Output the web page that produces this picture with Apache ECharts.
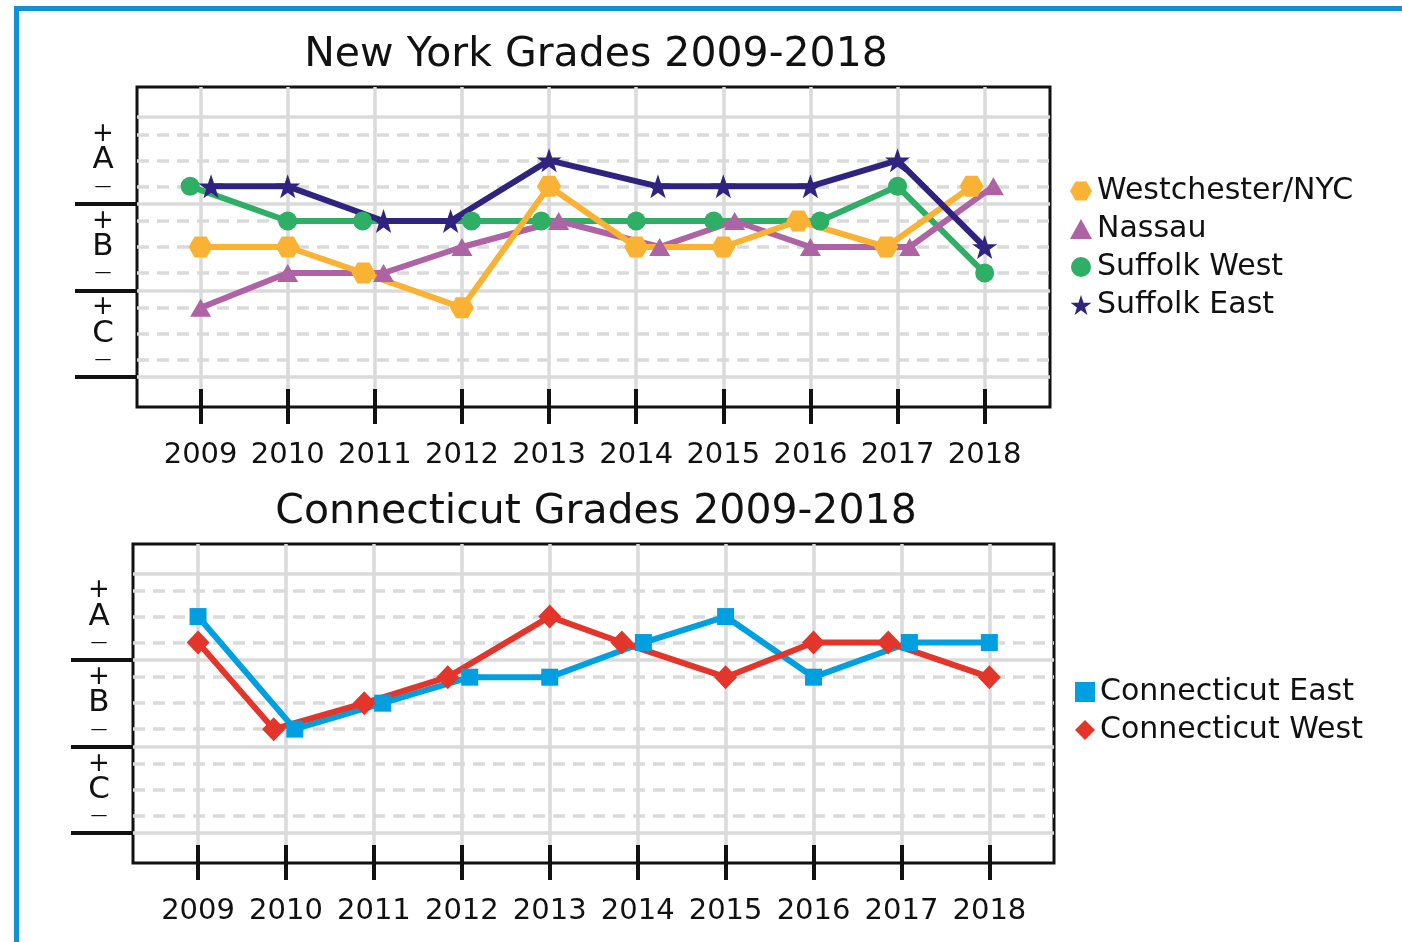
<!DOCTYPE html>
<html>
<head>
<meta charset="utf-8">
<script src="https://cdn.jsdelivr.net/npm/echarts@6/dist/echarts.min.js"></script>
<style>
html,body{margin:0;padding:0;background:#fff;}
#c{width:1402px;height:942px;}
</style>
</head>
<body>
<div id="c"></div>
<script>
// ---------------- data ----------------
const years = [2009, 2010, 2011, 2012, 2013, 2014, 2015, 2016, 2017, 2018];

// grade -> position on the grade scale (bands C / B / A, each 10 units wide)
const gradePos = {'C-': 2, 'C': 5, 'C+': 8, 'B-': 12, 'B': 15, 'B+': 18, 'A-': 22, 'A': 25, 'A+': 28};
const gradeLevels = [2, 5, 8, 12, 15, 18, 22, 25, 28];
const gradeLabels = ['–', 'C', '+', '–', 'B', '+', '–', 'A', '+'];
const bandEdges = [0, 10, 20, 30];
const bandTicks = [0, 10, 20];

// New York
const westchester      = ['B', 'B', 'B-', 'C+', 'A-', 'B', 'B', 'B+', 'B', 'A-'];
const westchesterShift = [0, 0, -0.13, 0, 0, 0, 0, -0.14, -0.13, -0.15];
const nassau           = ['C+', 'B-', 'B-', 'B', 'B+', 'B', 'B+', 'B', 'B', 'A-'];
const nassauShift      = [0, 0, 0.1, 0, 0.11, 0.27, 0.13, 0, 0.14, 0.1];
const suffolkWest      = ['A-', 'B+', 'B+', 'B+', 'B+', 'B+', 'B+', 'B+', 'A-', 'B-'];
const suffolkWestShift = [-0.12, 0, -0.14, 0.11, -0.09, 0, -0.11, 0.11, 0, 0];
const suffolkEast      = ['A-', 'A-', 'B+', 'B+', 'A', 'A-', 'A-', 'A-', 'A', 'B'];
const suffolkEastShift = [0.12, 0, 0.1, -0.13, 0, 0.25, 0, 0, 0, 0];

// Connecticut
const ctEast      = ['A', 'B-', 'B', 'B+', 'B+', 'A-', 'A', 'B+', 'A-', 'A-'];
const ctEastShift = [0, 0.1, 0.1, 0.09, 0, 0.065, 0, 0, 0.09, 0];
const ctWest      = ['A-', 'B-', 'B', 'B+', 'A', 'A-', 'B+', 'A-', 'A-', 'B+'];
const ctWestShift = [0, -0.14, -0.11, -0.16, 0, -0.18, 0, 0, -0.15, 0];

// ---------------- styling ----------------
const FONT = 'DejaVu Sans';
const INK = '#111111';
const GRID_C = '#dadada';
const C_ORANGE = '#F9B233';
const C_PURPLE = '#AE63A4';
const C_GREEN = '#2FAE66';
const C_NAVY = '#30237F';
const C_BLUE = '#009FE0';
const C_RED = '#E4352B';
const HEX = 'path://M0,50 L25,6.7 L75,6.7 L100,50 L75,93.3 L25,93.3 Z';
const STAR = 'path://M50,0 L61.8,35.1 L98.1,35.1 L68.8,56.9 L79.4,91.9 L50,70.5 L20.6,91.9 L31.2,56.9 L1.9,35.1 L38.2,35.1 Z';

const letterLevels = gradeLevels.filter((v, i) => gradeLabels[i] !== '+' && gradeLabels[i] !== '–');
const signLevels = gradeLevels.filter((v, i) => gradeLabels[i] === '+' || gradeLabels[i] === '–');
const labelFor = v => gradeLabels[gradeLevels.indexOf(Math.round(v))];

function pts(grades, shift) {
  return years.map((y, i) => [y + shift[i], gradePos[grades[i]]]);
}

function xAxes(gridIndex, min, max) {
  return [
    {
      type: 'value', gridIndex, min, max, position: 'bottom',
      axisLine: {show: false, onZero: false},
      axisTick: {show: true, inside: false, length: 17, customValues: years, lineStyle: {color: INK, width: 4}},
      axisLabel: {show: true, customValues: years, margin: 34, fontSize: 29, fontFamily: FONT, color: INK,
        showMinLabel: true, showMaxLabel: true, formatter: v => String(Math.round(v))},
      splitLine: {show: true, lineStyle: {color: GRID_C, width: 3.5}}
    },
    {
      type: 'value', gridIndex, min, max, position: 'bottom',
      axisLine: {show: false, onZero: false},
      axisTick: {show: true, inside: true, length: 18, customValues: years, lineStyle: {color: INK, width: 4}},
      axisLabel: {show: false},
      splitLine: {show: false}
    }
  ];
}

function yAxes(gridIndex, min, max) {
  const base = {type: 'value', gridIndex, min, max, position: 'left', axisLine: {show: false, onZero: false}};
  return [
    Object.assign({}, base, {
      axisTick: {show: false, customValues: bandEdges},
      axisLabel: {show: false},
      splitLine: {show: true, lineStyle: {color: GRID_C, width: 3.5}}
    }),
    Object.assign({}, base, {
      axisTick: {show: false, customValues: gradeLevels},
      axisLabel: {show: false},
      splitLine: {show: true, lineStyle: {color: GRID_C, width: 3.5, type: [12, 8]}}
    }),
    Object.assign({}, base, {
      axisTick: {show: false, customValues: signLevels},
      axisLabel: {show: true, customValues: signLevels, align: 'center', margin: 34,
        showMinLabel: true, showMaxLabel: true, hideOverlap: false,
        fontFamily: FONT, color: INK,
        formatter: v => labelFor(v) === '+' ? '{p|+}' : '{d|—}',
        rich: {
          d: {fontSize: 17, fontFamily: FONT, color: INK},
          p: {fontSize: 26, fontFamily: FONT, color: INK}
        }
      },
      splitLine: {show: false}
    }),
    Object.assign({}, base, {
      axisTick: {show: false, customValues: letterLevels},
      axisLabel: {show: true, customValues: letterLevels, align: 'center', margin: 34,
        showMinLabel: true, showMaxLabel: true, hideOverlap: false,
        fontSize: 31, fontFamily: FONT, color: INK, padding: [10, 0, 0, 0],
        formatter: v => labelFor(v)
      },
      splitLine: {show: false}
    }),
    Object.assign({}, base, {
      axisTick: {show: true, inside: false, length: 62, customValues: bandTicks, lineStyle: {color: INK, width: 4}},
      axisLabel: {show: false},
      splitLine: {show: false}
    })
  ];
}

function lineSeries(name, xi, yi, data, symbol, size, color) {
  return {
    type: 'line', name, xAxisIndex: xi, yAxisIndex: yi, data,
    symbol, symbolSize: size, showAllSymbol: true,
    lineStyle: {width: 6, color}, itemStyle: {color, opacity: 1},
    emphasis: {disabled: true}, animation: false
  };
}

const titleStyle = {fontSize: 41, fontWeight: 'normal', fontFamily: FONT, color: INK};
const legendText = {fontSize: 30, fontFamily: FONT, color: INK};

const option = {
  backgroundColor: '#ffffff',
  animation: false,
  graphic: [{
    type: 'rect', silent: true, z: -10,
    shape: {x: 16.5, y: 8.5, width: 1600, height: 1200},
    style: {fill: 'none', stroke: '#138FD5', lineWidth: 5}
  }],
  title: [
    {text: 'New York Grades 2009-2018', left: 591, top: 30, textAlign: 'center', textStyle: titleStyle},
    {text: 'Connecticut Grades 2009-2018', left: 591, top: 487, textAlign: 'center', textStyle: titleStyle}
  ],
  legend: [
    {
      orient: 'vertical', left: 1065, top: 171, itemGap: 8, itemWidth: 22, itemHeight: 20,
      textStyle: legendText, selectedMode: false,
      data: [
        {name: 'Westchester/NYC', icon: HEX},
        {name: 'Nassau', icon: 'triangle'},
        {name: 'Suffolk West', icon: 'circle'},
        {name: 'Suffolk East', icon: STAR}
      ]
    },
    {
      orient: 'vertical', left: 1070, top: 672, itemGap: 8, itemWidth: 20, itemHeight: 20,
      textStyle: legendText, selectedMode: false,
      data: [
        {name: 'Connecticut East', icon: 'rect'},
        {name: 'Connecticut West', icon: 'diamond'}
      ]
    }
  ],
  grid: [
    {left: 137, top: 87, width: 913, height: 320, show: true, borderColor: INK, borderWidth: 3, backgroundColor: 'transparent'},
    {left: 133, top: 544, width: 921, height: 319, show: true, borderColor: INK, borderWidth: 3, backgroundColor: 'transparent'}
  ],
  xAxis: [].concat(xAxes(0, 2008.27, 2018.75), xAxes(1, 2008.26, 2018.735)),
  yAxis: [].concat(yAxes(0, -3.46, 33.46), yAxes(1, -3.46, 33.38)),
  series: [
    lineSeries('Suffolk West', 0, 0, pts(suffolkWest, suffolkWestShift), 'circle', 19, C_GREEN),
    lineSeries('Nassau', 0, 0, pts(nassau, nassauShift), 'triangle', [21, 18], C_PURPLE),
    lineSeries('Westchester/NYC', 0, 0, pts(westchester, westchesterShift), HEX, [24, 21], C_ORANGE),
    lineSeries('Suffolk East', 0, 0, pts(suffolkEast, suffolkEastShift), STAR, [25, 24], C_NAVY),
    lineSeries('Connecticut East', 2, 5, pts(ctEast, ctEastShift), 'rect', 17, C_BLUE),
    lineSeries('Connecticut West', 2, 5, pts(ctWest, ctWestShift), 'diamond', [23, 24], C_RED)
  ]
};

const chart = echarts.init(document.getElementById('c'), null, {renderer: 'canvas'});
chart.setOption(option);
</script>
</body>
</html>
